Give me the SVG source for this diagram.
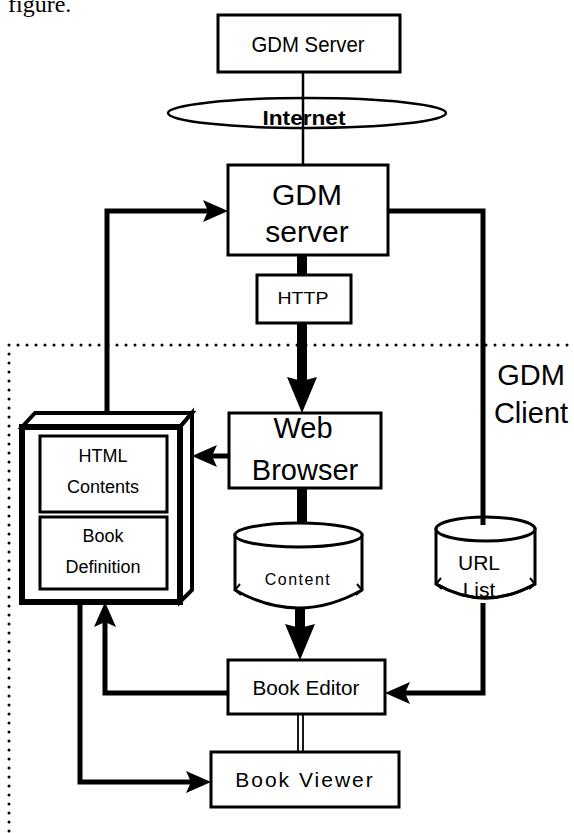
<svg xmlns="http://www.w3.org/2000/svg" width="574" height="833" viewBox="0 0 574 833">
<style>
text{font-family:"Liberation Sans",Arial,sans-serif;fill:#000}
.box{fill:#fff;stroke:#000;stroke-width:3}
.ln{fill:none;stroke:#000;stroke-width:5}
.thick{fill:none;stroke:#000;stroke-width:10}
.thin{fill:none;stroke:#000;stroke-width:2.5}
.hook{fill:none;stroke:#000;stroke-width:2}
.dot{fill:none;stroke:#000;stroke-width:3;stroke-linecap:round;stroke-dasharray:0 9}
.c{text-anchor:middle}
</style>
<defs>
<marker id="ah" markerUnits="userSpaceOnUse" markerWidth="40" markerHeight="40" refX="0" refY="0" orient="auto" overflow="visible"><path d="M0,0 L-5,-11 L20,0 L-5,11 Z" fill="#000"/></marker>
<marker id="big" markerUnits="userSpaceOnUse" markerWidth="50" markerHeight="50" refX="0" refY="0" orient="auto" overflow="visible"><path d="M0,0 L-4,-15 L32,0 L-4,15 Z" fill="#000"/></marker>
</defs>
<rect width="574" height="833" fill="#fff"/>
<text x="8" y="12" style="font-family:'Liberation Serif','Times New Roman',serif;font-size:24px">figure.</text>
<path class="dot" d="M9,345 H574 M9,345 V833"/>
<g id="connectors">
<path class="thin" d="M303,72 V165"/>
<path class="thick" d="M302,255 V275"/>
<path class="thick" d="M302,323 V381" marker-end="url(#big)"/>
<path class="thick" d="M302,488 V523"/>
<path class="thick" d="M300,608 V628" marker-end="url(#big)"/>
<path class="ln" d="M107,413 V211 H208" marker-end="url(#ah)"/>
<path class="ln" d="M388,211 H483 V525"/>
<path class="ln" d="M483,603 V693 H405" marker-end="url(#ah)"/>
<path class="ln" d="M229,456 H212" marker-end="url(#ah)"/>
<path class="ln" d="M228,693 H105 V622" marker-end="url(#ah)"/>
<path class="ln" d="M80,602 V782 H191" marker-end="url(#ah)"/>
<path class="thin" style="stroke-width:1.8" d="M298,714 V752 M303,714 V752"/>
</g>
<g id="internet">
<ellipse cx="307" cy="113" rx="139" ry="15" fill="none" stroke="#000" stroke-width="2.5"/>
<text class="c" x="304" y="125" style="font-weight:bold;font-size:21px" textLength="83" lengthAdjust="spacingAndGlyphs">Internet</text>
</g>
<g id="gdm-server-top">
<rect class="box" x="218" y="15" width="182" height="57"/>
<text class="c" x="308" y="52" style="font-size:22px" textLength="113" lengthAdjust="spacingAndGlyphs">GDM Server</text>
</g>
<g id="gdm-server">
<rect class="box" x="228" y="165" width="160" height="90"/>
<text class="c" x="307" y="205" style="font-size:30px">GDM</text>
<text class="c" x="307" y="242" style="font-size:30px">server</text>
</g>
<g id="http">
<rect class="box" x="257" y="275" width="94" height="48"/>
<text class="c" x="303" y="304" style="font-size:17px" textLength="51" lengthAdjust="spacingAndGlyphs">HTTP</text>
</g>
<g id="web-browser">
<rect class="box" x="229" y="413" width="152" height="75"/>
<text class="c" x="303" y="438" style="font-size:29px">Web</text>
<text class="c" x="305" y="480" style="font-size:29px">Browser</text>
</g>
<g id="book-store">
<path d="M22,427 L35,413 L192,413 L180,427 Z" fill="#fff" stroke="#000" stroke-width="4" stroke-linejoin="miter"/>
<path d="M180,427 L192,413 L192,590 L180,602 Z" fill="#fff" stroke="#000" stroke-width="4"/>
<rect x="22" y="427" width="158" height="175" fill="#fff" stroke="#000" stroke-width="6"/>
<rect class="box" x="40" y="436" width="127" height="76"/>
<text class="c" x="103" y="462" style="font-size:18px">HTML</text>
<text class="c" x="103" y="493" style="font-size:18px">Contents</text>
<rect class="box" x="40" y="517" width="127" height="72"/>
<text class="c" x="103" y="542" style="font-size:18px">Book</text>
<text class="c" x="103" y="573" style="font-size:18px">Definition</text>
</g>
<g id="content">
<path d="M235,535 V590 Q298,626 362,590 V535 Z" fill="#fff" stroke="#000" stroke-width="3"/>
<ellipse cx="298.5" cy="535" rx="63.5" ry="12" fill="#fff" stroke="#000" stroke-width="3"/>
<path class="hook" d="M240,584 L235,590 L241,595 M357,584 L362,590 L356,595"/>
<text class="c" x="298" y="585" style="font-size:16px;letter-spacing:1.5px">Content</text>
</g>
<g id="url-list">
<path d="M436,529 V584 Q485,612 535,584 V529 Z" fill="#fff" stroke="#000" stroke-width="3"/>
<text class="c" x="479" y="570" style="font-size:21px">URL</text>
<text class="c" x="479" y="597" style="font-size:21px">List</text>
<path d="M436,584 Q485,612 535,584" fill="none" stroke="#000" stroke-width="3"/>
<path class="hook" d="M441,578 L436,584 L442,589 M530,578 L535,584 L529,589"/>
<ellipse cx="485.5" cy="529" rx="49.5" ry="12" fill="#fff" stroke="#000" stroke-width="3"/>
<path d="M483,517 V525" class="ln"/>
</g>
<g id="gdm-client">
<text class="c" x="531" y="385" style="font-size:29px">GDM</text>
<text class="c" x="531" y="423" style="font-size:29px">Client</text>
</g>
<g id="book-editor">
<rect class="box" x="228" y="660" width="157" height="54"/>
<text class="c" x="306" y="695" style="font-size:21px" textLength="107" lengthAdjust="spacingAndGlyphs">Book Editor</text>
</g>
<g id="book-viewer">
<rect class="box" x="211" y="752" width="188" height="55"/>
<text class="c" x="305" y="787" style="font-size:21px;letter-spacing:2px">Book Viewer</text>
</g>
</svg>
